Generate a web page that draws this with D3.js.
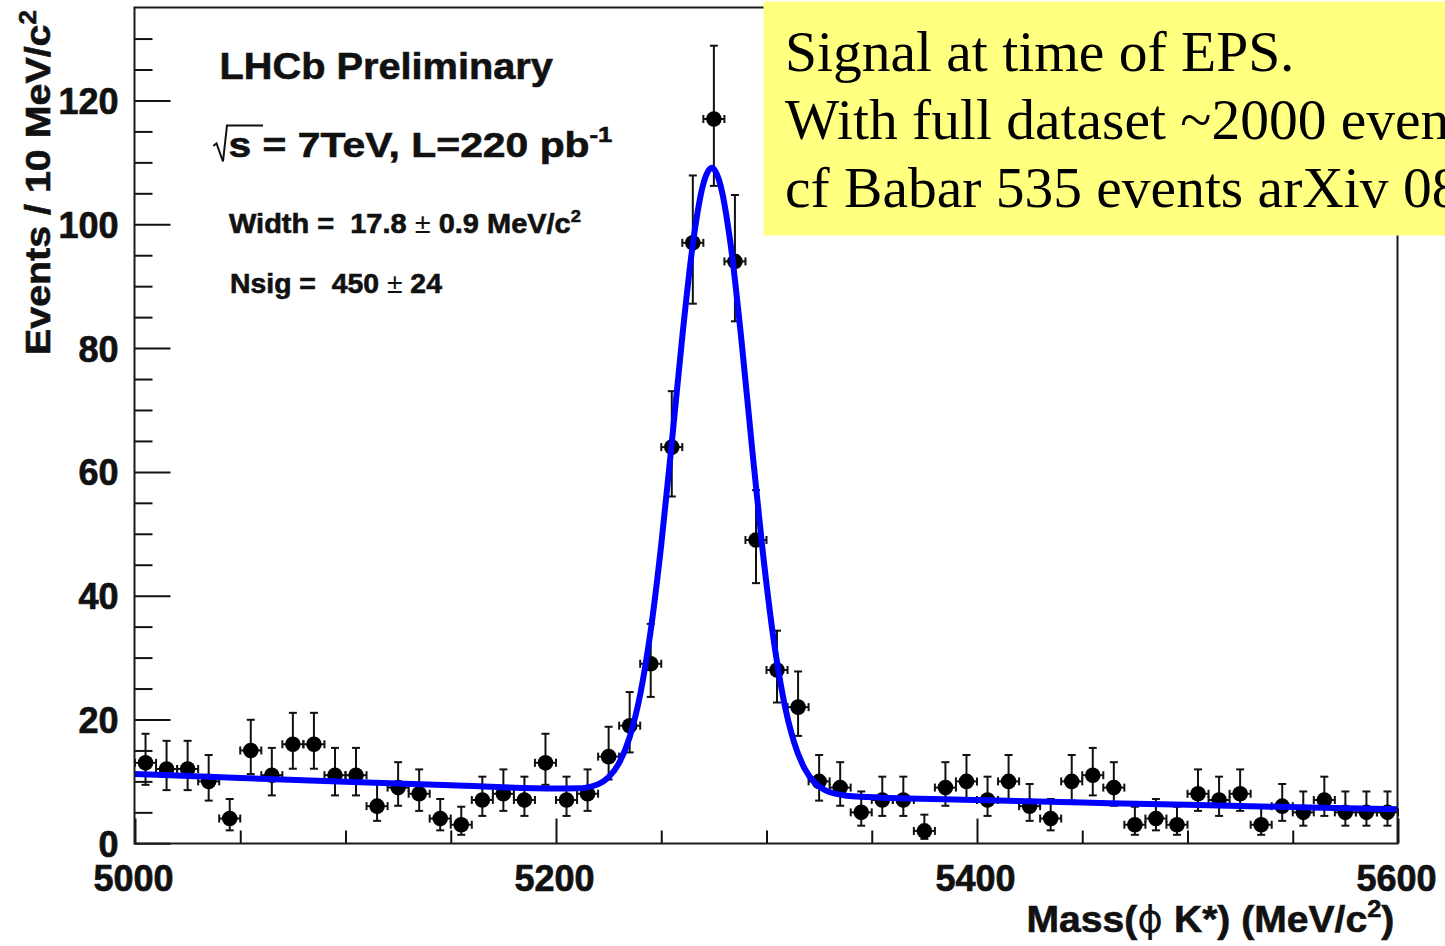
<!DOCTYPE html>
<html><head><meta charset="utf-8">
<script src="https://cdn.jsdelivr.net/npm/d3@7"></script>
<style>
html,body{margin:0;padding:0;background:#fff;overflow:hidden}
svg{display:block}
text{white-space:pre}
</style></head><body>
<svg id="chart" width="1445" height="946"></svg>
<script>
// ---- data ----
const binCenters = [5005,5015,5025,5035,5045,5055,5065,5075,5085,5095,
                    5105,5115,5125,5135,5145,5155,5165,5175,5185,5195,
                    5205,5215,5225,5235,5245,5255,5265,5275,5285,5295,
                    5305,5315,5325,5335,5345,5355,5365,5375,5385,5395,
                    5405,5415,5425,5435,5445,5455,5465,5475,5485,5495,
                    5505,5515,5525,5535,5545,5555,5565,5575,5585,5595];
const counts = [13,12,12,10,4,15,11,16,16,11,
                11,6,9,8,4,3,7,8,7,13,
                7,8,14,19,29,64,97,117,94,49,
                28,22,10,9,5,7,7,2,9,10,
                7,10,6,4,10,11,9,3,4,3,
                8,7,8,3,6,5,7,5,5,5];
const binWidth = 10;
// fitted curve (signal + background)
const fitMass   = [5000,5050,5100,5150,5200,5210,5220,5225,5230,5235,5240,5245,5250,5255,5260,5265,5270,5274,
                   5278,5283,5288,5293,5298,5303,5308,5313,5318,5323,5328,5338,5348,5400,5450,5500,5550,5600];
const fitEvents = [11.2,10.56,9.95,9.38,8.86,8.88,9.55,10.68,12.98,17.16,24.04,34.39,48.24,64.69,81.84,96.79,106.54,109.11,
                   106.48,96.63,81.59,64.34,47.8,33.85,23.41,16.44,12.16,9.77,8.55,7.69,7.48,6.99,6.59,6.21,5.85,5.52];
const xMajorTicks = [5000,5200,5400,5600];
const xMinorTicks = [5050,5100,5150,5250,5300,5350,5450,5500,5550];
const yMajorTicks = [0,20,40,60,80,100,120];
const yMinorTicks = [5,10,15,25,30,35,45,50,55,65,70,75,85,90,95,105,110,115,125,130];
const noteLines = ["Signal at time of EPS.", "With full dataset ~2000 events", "cf Babar 535 events arXiv 0808.3586"];

// ---- layout ----
const svg = d3.select("#chart");
const L = 134.5, R = 1397.5, T = 7.5, B = 843.5;
const x = d3.scaleLinear().domain([5000,5600]).range([135,1398]);
const y = d3.scaleLinear().domain([0,135]).range([843.3,7.6]);
const SANS = "'Liberation Sans', Arial, Helvetica, sans-serif";
const SERIF = "'Liberation Serif', 'Times New Roman', serif";
const INK = "#111";

// Poisson (Garwood, 68.3%) interval via Wilson-Hilferty
function poissonInterval(n){
  const lo = n>0 ? n*Math.pow(1-1/(9*n)-1/(3*Math.sqrt(n)),3) : 0;
  const m = n+1;
  const hi = m*Math.pow(1-1/(9*m)+1/(3*Math.sqrt(m)),3);
  return [lo,hi];
}
const data = binCenters.map((c,i)=>{const [lo,hi]=poissonInterval(counts[i]);return {c,n:counts[i],lo,hi};});

// ---- axes (ticks inside the frame) ----
function styleAxis(g){
  g.select(".domain").remove();
  g.selectAll(".tick line").attr("stroke",INK).attr("stroke-width",2);
  g.selectAll(".tick text").attr("fill",INK).attr("font-family",SANS)
    .attr("font-weight","bold").attr("font-size",36)
    .attr("stroke",INK).attr("stroke-width",0.7);
}
svg.append("g").attr("transform",`translate(${L},0)`)
  .call(d3.axisLeft(y).tickValues(yMinorTicks).tickSize(-18).tickFormat(""))
  .call(styleAxis);
const yAx = svg.append("g").attr("transform",`translate(${L},0)`)
  .call(d3.axisLeft(y).tickValues(yMajorTicks).tickSize(-36).tickPadding(16).tickFormat(d3.format("d")))
  .call(styleAxis);
yAx.selectAll(".tick text").attr("dy","0.36em");

svg.append("g").attr("transform",`translate(0,${B})`)
  .call(d3.axisBottom(x).tickValues(xMinorTicks).tickSize(-13).tickFormat(""))
  .call(styleAxis);
const xAx = svg.append("g").attr("transform",`translate(0,${B})`)
  .call(d3.axisBottom(x).tickValues(xMajorTicks).tickSize(-25).tickPadding(22).tickFormat(d3.format("d")))
  .call(styleAxis);
xAx.selectAll(".tick text").attr("x",-2);

// ---- data points with error bars ----
const pts = svg.append("g");
const eb = pts.selectAll("g.pt").data(data).join("g").attr("class","pt")
  .attr("stroke",INK).attr("stroke-width",2);
eb.append("line").attr("x1",d=>x(d.c)).attr("x2",d=>x(d.c)).attr("y1",d=>y(d.lo)).attr("y2",d=>y(d.hi));
eb.append("line").attr("x1",d=>x(d.c)-4).attr("x2",d=>x(d.c)+4).attr("y1",d=>y(d.hi)).attr("y2",d=>y(d.hi));
eb.append("line").attr("x1",d=>x(d.c)-4).attr("x2",d=>x(d.c)+4).attr("y1",d=>y(d.lo)).attr("y2",d=>y(d.lo));
eb.append("line").attr("x1",d=>x(d.c-binWidth/2)).attr("x2",d=>x(d.c+binWidth/2)).attr("y1",d=>y(d.n)).attr("y2",d=>y(d.n));
eb.append("line").attr("x1",d=>x(d.c-binWidth/2)).attr("x2",d=>x(d.c-binWidth/2)).attr("y1",d=>y(d.n)-4).attr("y2",d=>y(d.n)+4);
eb.append("line").attr("x1",d=>x(d.c+binWidth/2)).attr("x2",d=>x(d.c+binWidth/2)).attr("y1",d=>y(d.n)-4).attr("y2",d=>y(d.n)+4);
pts.selectAll("circle").data(data).join("circle")
  .attr("cx",d=>x(d.c)).attr("cy",d=>y(d.n)).attr("r",7.8).attr("fill","#000");

// ---- fit curve ----
const fit = fitMass.map((m,i)=>({m,v:fitEvents[i]}));
svg.append("path").datum(fit)
  .attr("d",d3.line().x(d=>x(d.m)).y(d=>y(d.v)).curve(d3.curveMonotoneX))
  .attr("fill","none").attr("stroke","#0000ff").attr("stroke-width",6)
  .attr("stroke-linejoin","round");

// ---- frame ----
svg.append("rect").attr("x",L).attr("y",T).attr("width",R-L).attr("height",B-T)
  .attr("fill","none").attr("stroke","#1a1a1a").attr("stroke-width",2);

// ---- text helpers ----
function fitted(xp, yb, width, build, rotate){
  const g = svg.append("g");
  const t = g.append("text").attr("x",0).attr("y",0).attr("fill",INK)
    .attr("font-family",SANS).attr("font-weight","bold")
    .attr("stroke",INK).attr("stroke-width",0.6);
  build(t);
  const w = t.node().getBBox().width;
  g.attr("transform",`translate(${xp},${yb})${rotate?" rotate(-90)":""} scale(${width/w},1)`);
  return g;
}

fitted(219.5, 78.5, 334, t=>{ t.attr("font-size",37).text("LHCb Preliminary"); });

// sqrt(s) line
svg.append("path").attr("d","M213.3,146 L216.5,143.5 L223,161.5 L227,125.5 L263,125.5")
  .attr("fill","none").attr("stroke",INK).attr("stroke-width",2);
fitted(228.5, 157, 384, t=>{
  t.attr("font-size",35);
  t.append("tspan").text("s = 7TeV, L=220 pb");
  t.append("tspan").attr("font-size",22).attr("dy",-15).text("-1");
});

fitted(229, 233.3, 352, t=>{
  t.attr("font-size",27);
  t.append("tspan").text("Width =  17.8");
  t.append("tspan").attr("font-weight","normal").attr("stroke-width",0).text(" \u00b1 ");
  t.append("tspan").text("0.9 MeV/c");
  t.append("tspan").attr("font-size",17).attr("dy",-11).text("2");
});
fitted(230, 293.3, 212, t=>{
  t.attr("font-size",27);
  t.append("tspan").text("Nsig =  450");
  t.append("tspan").attr("font-weight","normal").attr("stroke-width",0).text(" \u00b1 ");
  t.append("tspan").text("24");
});

// axis titles
fitted(50, 355, 345, t=>{
  t.attr("font-size",35);
  t.append("tspan").text("Events / 10 MeV/c");
  t.append("tspan").attr("font-size",23).attr("dy",-14).text("2");
}, true);
fitted(1026.5, 931.5, 368, t=>{
  t.attr("font-size",37);
  t.append("tspan").text("Mass(");
  t.append("tspan").attr("font-weight","normal").attr("stroke-width",0).attr("font-family","'DejaVu Sans', sans-serif").text("\u03d5");
  t.append("tspan").text(" K*) (MeV/c");
  t.append("tspan").attr("font-size",24).attr("dy",-15).text("2");
  t.append("tspan").attr("dy",15).text(")");
});

// ---- yellow note box ----
svg.append("rect").attr("x",763.5).attr("y",1.5).attr("width",720).attr("height",234)
  .attr("fill","#ffff80");
svg.append("g").selectAll("text").data(noteLines).join("text")
  .attr("x",785).attr("y",(d,i)=>70.7+i*68)
  .attr("font-family",SERIF).attr("font-size",57.5).attr("fill","#000")
  .text(d=>d);
</script>
</body></html>
